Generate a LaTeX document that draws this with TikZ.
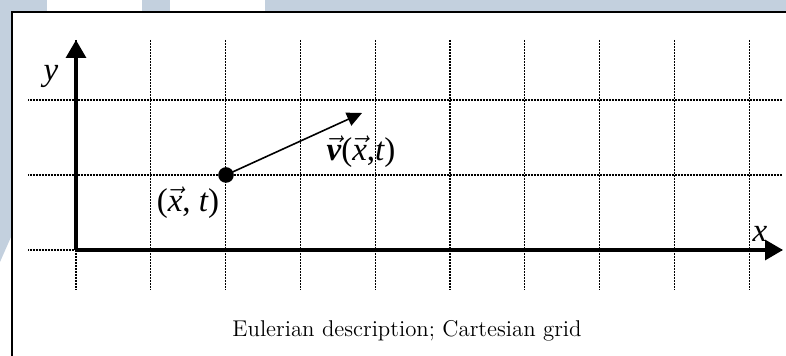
\documentclass[tikz,border=0pt]{standalone}
\usepackage{amsmath}
\usepackage{fontspec}
\newfontfamily\tnr{Liberation Serif}[ItalicFont={Liberation Serif Italic},BoldItalicFont={Liberation Serif Bold Italic}]
\newcommand{\upp}[1]{{\upshape #1}}
\usetikzlibrary{arrows.meta}
\definecolor{bgblue}{RGB}{195,208,222}
\begin{document}
\begin{tikzpicture}[x=0.5pt,y=-0.5pt,
  gridline/.style={line width=0.55pt, dash pattern=on 0.4pt off 0.35pt},
  axisline/.style={line width=1.6pt,-{Triangle[length=9pt,width=10pt]}},
  vecline/.style={line width=0.8pt,-{Triangle[length=7.5pt,width=7pt]}},
  lbl/.style={font=\tnr\fontsize{16.5}{19}\selectfont\itshape, inner sep=0pt},
  dotnode/.style={circle, fill=black, minimum size=7.8pt, inner sep=0pt}]
\useasboundingbox (0,0) rectangle (786,356);
% background pieces
\fill[bgblue] (0,0) -- (786,0) -- (786,12) -- (11,12) -- (11,237) -- (0,262) -- cycle;
\fill[white] (47,0) rectangle (142,11.5);
\fill[white] (170,0) rectangle (265,11.5);
\fill[white] (12,12) rectangle (786,356);
\draw[line width=1pt] (12,360) -- (12,12.5) -- (790,12.5);
% grid
\foreach \i in {0,...,9} \draw[gridline] ({76+74.8*\i},40) -- ({76+74.8*\i},290);
\foreach \yy in {100,175,250} \draw[gridline] (28,\yy) -- (782,\yy);
% axes
\coordinate (O) at (76,250);
\coordinate (ytip) at (76,40);
\coordinate (xtip) at (783,250);
\draw[axisline] (O) -- (ytip);
\draw[axisline] (O) -- (xtip);
% point and vector
\node[dotnode] (p) at (226,175) {};
\coordinate (vt) at (362,113);
\draw[vecline] (p.center) -- (vt);
% labels
\node[lbl] (ylab) at (51,76) {y};
\node[lbl] (xlab) at (760,234) {x};
\node[lbl] (plab) at (188,203) {\upp{(}$\vec{\text{x}}$\upp{,} t\upp{)}};
\node[lbl] (vlab) at (361,152) {$\vec{\text{\bfseries v}}$\upp{(}$\vec{\text{x}}$\upp{,}t\upp{)}};
\node[font=\fontsize{11.4}{13}\selectfont, inner sep=0pt] (cap) at (407,331) {Eulerian description; Cartesian grid};
\end{tikzpicture}
\end{document}
